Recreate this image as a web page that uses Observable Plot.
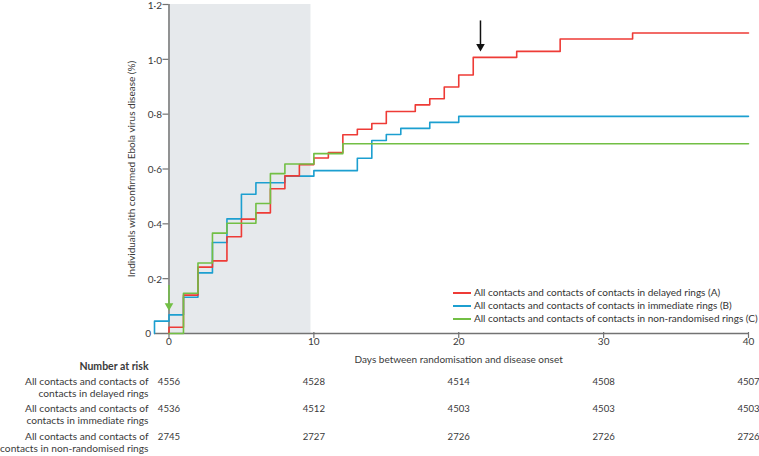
<!DOCTYPE html>
<html><head><meta charset="utf-8">
<script src="https://cdn.jsdelivr.net/npm/d3@7"></script>
<script src="https://cdn.jsdelivr.net/npm/@observablehq/plot@0.6"></script>
<style>
body{margin:0;background:#fff;font-family:Lato,sans-serif;}
#wrap{position:relative;width:759px;height:456px;}
.legend{position:absolute;left:453px;top:286px;font-size:10px;color:#333;font-family:Lato,sans-serif;}
.legend div{height:13px;line-height:13px;display:flex;align-items:center;white-space:nowrap;}
.legend .sw{display:inline-block;width:18px;height:2px;margin-right:3px;}
svg{overflow:visible;}
</style></head><body><div id="wrap"></div>
<script>
// Kaplan-Meier style step data (day, cumulative %)
const delayedX = [0, 0, 1, 2, 3, 4, 5, 6, 7, 8, 9, 10, 11, 12, 13, 14, 15, 17, 18, 19, 20, 21, 24, 27, 32, 40];
const delayedY = [0, 0.023, 0.14, 0.242, 0.265, 0.353, 0.417, 0.44, 0.528, 0.575, 0.616, 0.64, 0.66, 0.725, 0.745, 0.766, 0.81, 0.834, 0.856, 0.899, 0.943, 1.007, 1.029, 1.074, 1.096, 1.096];
const immediateX = [-1, -1, 0, 1, 2, 3, 4, 5, 6, 8, 10, 13, 14, 15, 16, 18, 20, 40];
const immediateY = [0, 0.045, 0.068, 0.132, 0.221, 0.332, 0.418, 0.508, 0.55, 0.574, 0.594, 0.639, 0.704, 0.726, 0.748, 0.77, 0.792, 0.792];
const nonRandX = [0, 1, 2, 3, 4, 6, 7, 8, 10, 12, 40];
const nonRandY = [0, 0.147, 0.257, 0.366, 0.402, 0.474, 0.583, 0.618, 0.656, 0.692, 0.692];

const seriesNames = [
  "All contacts and contacts of contacts in delayed rings (A)",
  "All contacts and contacts of contacts in immediate rings (B)",
  "All contacts and contacts of contacts in non-randomised rings (C)"
];
const seriesColors = ["#ee3b36", "#1c9fd0", "#72bf44"];

const xTicks = [0, 10, 20, 30, 40];
const yTicks = [0, 0.2, 0.4, 0.6, 0.8, 1.0, 1.2];
const shadeDays = [0, 9.8];        // early window shaded
const arrowDay = 21.5;              // black arrow marker
const arrowY = [1.14, 1.05];
const greenArrowY = [0.175, 0.104];

const riskDays = [0, 10, 20, 30, 40];
const riskDelayed = [4556, 4528, 4514, 4508, 4507];
const riskImmediate = [4536, 4512, 4503, 4503, 4503];
const riskNonRand = [2745, 2727, 2726, 2726, 2726];
const riskLabels = [
  ["All contacts and contacts of", "contacts in delayed rings"],
  ["All contacts and contacts of", "contacts in immediate rings"],
  ["All contacts and contacts of", "contacts in non-randomised rings"]
];

const toPts = (xs, ys) => xs.map((x, i) => ({x, y: ys[i]}));
const fmt = d => d === 0 ? "0" : d.toFixed(1).replace(".", "·");
const axisColor = "#737373";
const textColor = "#3a3a3a";

const riskRows = [riskDelayed, riskImmediate, riskNonRand];
const rowDy = [51, 78, 106];
const riskMarks = [];
riskRows.forEach((row, r) => {
  riskMarks.push(Plot.text(row.map((v, i) => ({x: riskDays[i], v})), {
    x: "x", text: d => String(d.v), frameAnchor: "bottom", dy: rowDy[r], fill: textColor, fontSize: 9.6
  }));
  riskLabels[r].forEach((line, k) => {
    riskMarks.push(Plot.text([line], {
      frameAnchor: "bottom-left", textAnchor: "end", dx: -6, dy: rowDy[r] + k * 12.7, fill: textColor, fontSize: 10.2
    }));
  });
});

const chart = Plot.plot({
  width: 759, height: 456,
  marginLeft: 154, marginRight: 11, marginTop: 4, marginBottom: 123,
  x: {domain: [-1, 40], axis: null},
  y: {domain: [0, 1.2], axis: null},
  style: {fontFamily: "Lato, sans-serif", fontSize: "10px", color: textColor, background: "#fff", overflow: "visible"},
  marks: [
    Plot.rect([shadeDays], {x1: d => d[0], x2: d => d[1], y1: 0, y2: 1.2, fill: "#e6e9ec"}),
    Plot.ruleY([0], {stroke: axisColor, strokeWidth: 1.5}),
    Plot.ruleX([0], {y1: 0, y2: 1.2, stroke: axisColor, strokeWidth: 1.5}),
    Plot.ruleY(yTicks.filter(d => d > 0), {x1: 0, x2: 0, insetLeft: -6, stroke: axisColor, strokeWidth: 1.2}),
    Plot.text(yTicks.filter(d => d > 0), {x: 0, y: d => d, text: fmt, textAnchor: "end", dx: -7, dy: 1, fill: textColor}),
    Plot.text([0], {x: 0, y: d => d, text: fmt, textAnchor: "end", dx: -18, fill: textColor}),
    Plot.ruleX(xTicks, {y1: 0, y2: 0, insetTop: -1, insetBottom: -5, stroke: axisColor, strokeWidth: 1.2}),
    Plot.text(xTicks, {x: d => d, frameAnchor: "bottom", dy: 11, text: d => String(d), fill: textColor}),
    Plot.text(["Days between randomisation and disease onset"], {frameAnchor: "bottom-left", textAnchor: "start", dx: 200, dy: 29, fill: textColor}),
    Plot.text(["Individuals with confirmed Ebola virus disease (%)"], {frameAnchor: "left", textAnchor: "middle", rotate: -90, dx: -23, fill: textColor}),
    Plot.line(toPts(immediateX, immediateY), {x: "x", y: "y", curve: "step-after", stroke: seriesColors[1], strokeWidth: 1.6}),
    Plot.line(toPts(delayedX, delayedY), {x: "x", y: "y", curve: "step-after", stroke: seriesColors[0], strokeWidth: 1.6}),
    Plot.line(toPts(nonRandX, nonRandY), {x: "x", y: "y", curve: "step-after", stroke: seriesColors[2], strokeWidth: 1.6}),
    Plot.ruleX([arrowDay], {y1: arrowY[0], y2: arrowY[1], stroke: "#111", strokeWidth: 1.5}),
    Plot.dot([arrowDay], {x: d => d, y: arrowY[1] - 0.003, symbol: "triangle", r: 3.2, rotate: 180, fill: "#111", stroke: null}),
    Plot.ruleX([0], {y1: greenArrowY[0], y2: greenArrowY[1], stroke: seriesColors[2], strokeWidth: 1.5}),
    Plot.dot([0], {x: d => d, y: greenArrowY[1] - 0.003, symbol: "triangle", r: 3.2, rotate: 180, fill: seriesColors[2], stroke: null}),
    Plot.text(["Number at risk"], {frameAnchor: "bottom-left", textAnchor: "end", dx: -6, dy: 36, fontWeight: "bold", fill: textColor, fontSize: 10.5}),
    ...riskMarks
  ]
});
const wrap = document.getElementById("wrap");
wrap.appendChild(chart);
const lg = document.createElement("div");
lg.className = "legend";
seriesNames.forEach((n, i) => {
  const row = document.createElement("div");
  const sw = document.createElement("span");
  sw.className = "sw"; sw.style.background = seriesColors[i];
  row.appendChild(sw);
  row.appendChild(document.createTextNode(n));
  lg.appendChild(row);
});
wrap.appendChild(lg);
</script></body></html>
